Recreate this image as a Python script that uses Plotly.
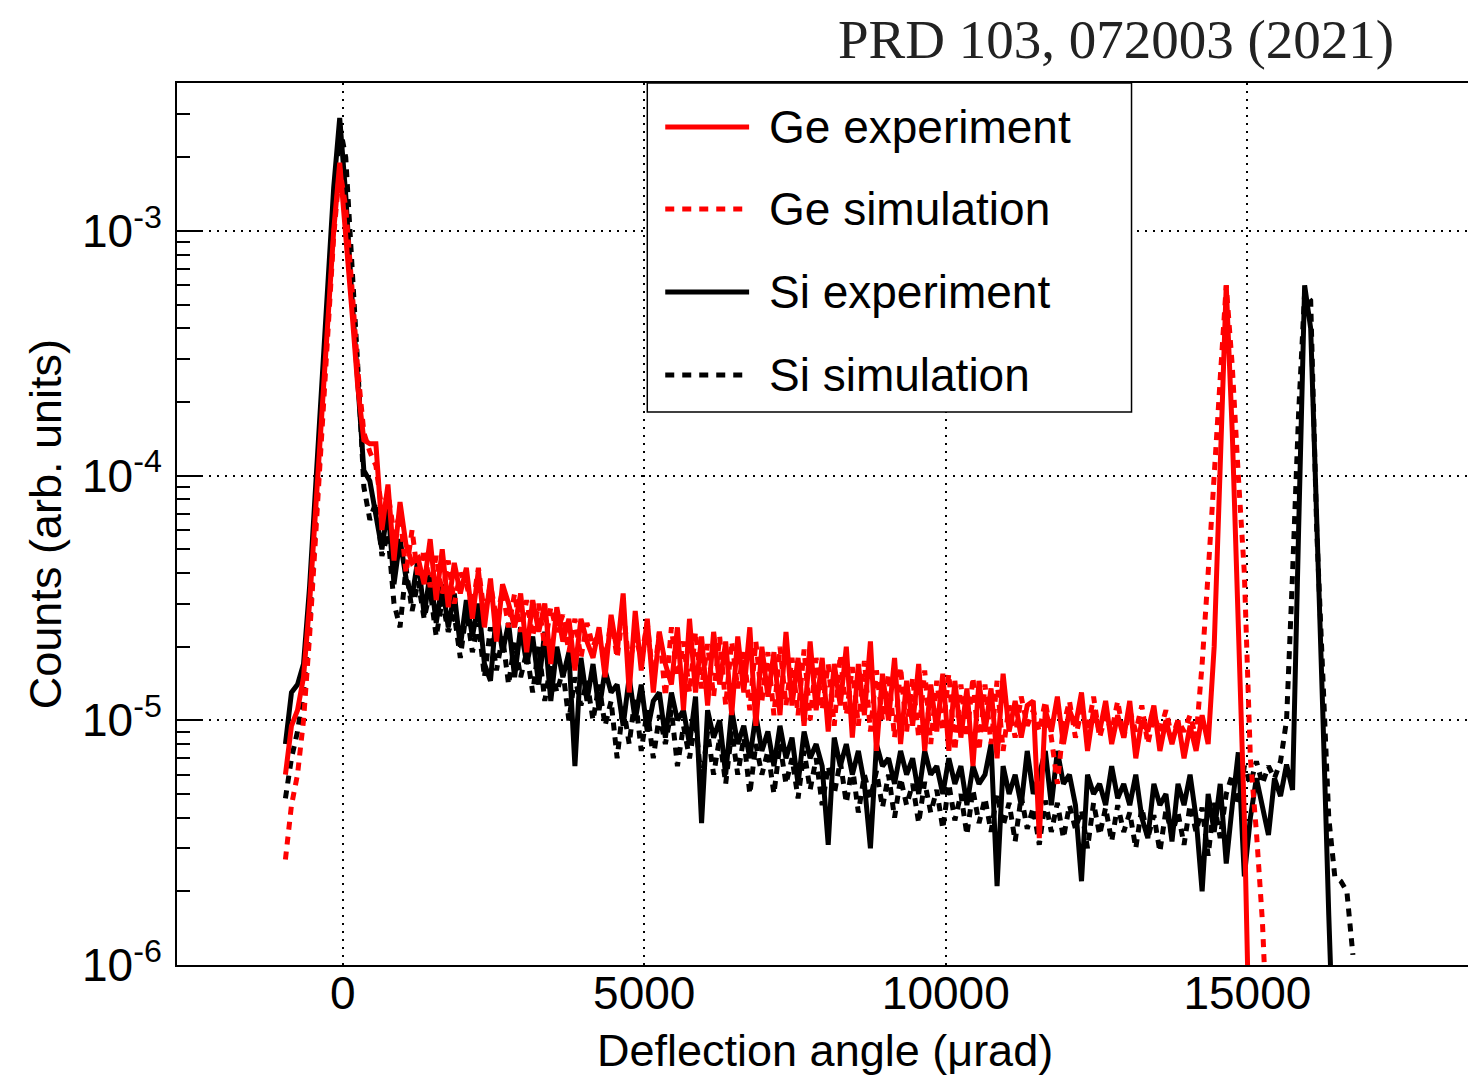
import numpy as np
import plotly.graph_objects as go

# Histogram contents, in units of 1e-6 (arb. units); bin centres start at -950 µrad, width 100 µrad
UNIT = 1e-6
first_bin_center = -950
bin_width = 100

ge_experiment = [
    6, 9.5, 11, 15, 30, 70, 170, 420, 1000, 1900,
    1000, 480, 230, 140, 135, 135, 60, 92, 45, 78,
    52, 44, 46, 36, 55, 31, 50, 29, 44, 33,
    42, 26, 41, 24, 38, 21, 36, 30, 24, 33,
    19, 31, 23, 30, 17, 29, 21, 26, 16, 26,
    21, 18, 24, 15, 27, 19, 33, 13, 28, 16,
    26, 13, 23, 17, 14, 24, 11, 26, 13, 22,
    11.5, 23, 14, 21, 10.5, 22, 13, 24, 9.5, 20,
    12.5, 19, 10.5, 23, 11.5, 18, 9.5, 21, 11, 18,
    9, 17, 11.5, 20, 8.5, 17, 10.5, 21, 7.5, 15.5,
    10, 18, 8, 14.5, 9.5, 17, 7.5, 14, 9, 15.5,
    7.5, 14.5, 8.5, 13.5, 6.5, 14.5, 9, 13.5, 7, 15.5,
    9, 12, 8.5, 11.5, 12, 3.3, 11, 9, 12.5, 8,
    11, 9.5, 13, 7.5, 11, 9, 12, 8, 10.5, 8.5,
    12, 7, 10, 9, 11.5, 7.5, 10, 8, 10, 7,
    9.5, 7.5, 10.5, 8, 20, 110, 600, 150, 22, 4,
    0.3,
]

ge_simulation = [
    2.7, 4.5, 6, 10, 22, 55, 140, 380, 950, 1800,
    1250, 600, 270, 150, 125, 110, 72, 85, 58, 70,
    40, 60, 38, 50, 35, 47, 33, 45, 30, 40,
    36, 29, 42, 27, 36, 26, 34, 24, 33, 23,
    31, 22, 30, 20, 29, 23, 27, 19, 26, 18,
    25, 20, 23, 17, 26, 18, 28, 17, 22, 18,
    25, 14.5, 23, 12.5, 24, 15, 21, 13, 23, 13.5,
    20.5, 12.5, 22, 11.5, 21, 13.5, 19, 11, 21, 12,
    19, 10.5, 20, 11.5, 18, 10.5, 19.5, 10, 18, 11,
    17, 9.5, 18.5, 10.5, 16.5, 9.5, 17.5, 9, 16, 10,
    15.5, 8.5, 16.5, 9, 15, 8.5, 16, 8, 14.5, 9,
    15.5, 7.5, 14, 8.5, 15, 7.5, 14, 8, 14.5, 7.5,
    11.5, 8.5, 12.5, 9.5, 11, 9, 12, 8.5, 5.5, 9.5,
    12, 8.5, 11, 9, 12.5, 8.5, 10.5, 9, 12, 8.5,
    11, 9, 11.5, 8, 10.5, 9, 11, 8.5, 10, 9,
    10.5, 8.5, 17, 40, 110, 250, 600, 280, 100, 40,
    7, 3.5, 1.5, 0.4,
]

si_experiment = [
    8, 13, 14, 17, 35, 90, 250, 650, 1500, 2900,
    1400, 550, 230, 105, 95, 70, 50, 75, 36, 55,
    38, 32, 46, 27, 40, 25, 36, 24, 33, 20,
    31, 22, 30, 17, 14.5, 28, 19, 25, 15, 24,
    17, 22, 14, 23, 12, 20, 15, 19, 6.5, 18,
    12, 17, 11, 16, 13, 14, 9.5, 15, 10, 14,
    9, 12, 13, 8.5, 13, 10, 11, 8, 12.5, 3.8,
    11, 8.5, 10, 6, 11, 8, 9.5, 7, 10.5, 7.5,
    9, 6.5, 9.5, 7, 8.5, 5.5, 9, 7, 8, 6.5,
    3.1, 8.5, 6.5, 8, 6, 7.5, 5.5, 3, 8, 6.5,
    7, 5.5, 7.5, 6, 7, 5, 7.5, 6, 6.5, 5,
    7, 5.5, 6.5, 4.5, 6.5, 5.5, 6, 8, 2.1, 6.5,
    5, 6, 4.5, 7.5, 5, 6, 7.5, 4.5, 7.5, 5.5,
    6, 4.5, 2.2, 6, 5, 5.5, 4.5, 6.5, 4.8, 5.5,
    4.5, 6, 4, 3.3, 5.5, 4.5, 5, 3.2, 5.5, 4.5,
    6, 4, 2, 5, 3.5, 5.5, 2.6, 4.5, 7.4, 2.3,
    4, 5.8, 4.5, 3.4, 5.8, 4.9, 6.6, 5.2, 60, 600,
    400, 75, 11, 1.6, 0.3,
]

si_simulation = [
    4.8, 7, 9, 13, 25, 60, 170, 480, 1200, 2700,
    2000, 800, 280, 90, 66, 78, 47, 58, 30, 24,
    42, 28, 37, 26, 34, 22, 31, 23, 27, 18,
    28, 19, 25, 15, 24, 16, 22, 14, 21, 15,
    19, 13, 20, 12, 17, 13, 16, 10, 15, 11.5,
    14.5, 10, 14, 9.5, 12, 7, 11.5, 8, 12.5, 7.5,
    11, 7, 10.5, 8, 11, 6.5, 9.5, 7, 10, 5.5,
    9, 6, 8.5, 5.5, 9, 6, 8.5, 5, 8, 6,
    7.5, 5, 8, 5.5, 7, 4.8, 7.5, 5.2, 7, 4.5,
    6.5, 5, 6.8, 4.6, 6.5, 4.2, 6, 4.8, 6.2, 4.4,
    6, 4, 5.8, 4.5, 5.5, 3.8, 5.6, 4.2, 5.2, 3.6,
    5.5, 3.9, 5, 3.4, 5.2, 3.8, 4.8, 3.5, 5, 3.7,
    4.6, 3.2, 4.9, 3.6, 4.4, 3.1, 4.7, 3.5, 4.6, 3.3,
    4.5, 3.6, 4.3, 3, 4.6, 3.4, 4.4, 3.2, 4.5, 3.5,
    4.2, 3, 4.4, 3.3, 4.1, 2.9, 4.3, 3.4, 4.2, 3.1,
    4.5, 3.5, 4.4, 2.8, 4.6, 3.3, 5, 6, 4.5, 6.5,
    5.5, 6.8, 5.5, 6.5, 5.8, 6.8, 10, 40, 180, 560,
    520, 60, 15, 4, 2.3, 2.2, 2, 1.1,
]

series_names = ["Ge experiment", "Ge simulation", "Si experiment", "Si simulation"]
series_colors = ["#ff0000", "#ff0000", "#000000", "#000000"]
series_dash = ["solid", "8px,7px", "solid", "8px,7px"]

x_ticks = [0, 5000, 10000, 15000]
x_tick_labels = ["0", "5000", "10000", "15000"]
y_ticks = [1e-6, 1e-5, 1e-4, 1e-3]
y_tick_labels = ["10<sup>-6</sup>", "10<sup>-5</sup>", "10<sup>-4</sup>", "10<sup>-3</sup>"]

FONT = "Liberation Sans"
OFF = 8  # page body margin in the browser
# target plot area on screen: x 177..1474, y 83..965
W, H = 1468, 1067
L, T = 177 - OFF, 83 - OFF
R = W - (1474 - OFF)
B = H - (965 - OFF)
pw, ph = W - L - R, H - T - B


def px2paper(px, py):
    fx, fy = px - OFF, py - OFF
    return (fx - L) / pw, (H - B - fy) / ph


data = {
    "Ge experiment": ge_experiment,
    "Ge simulation": ge_simulation,
    "Si experiment": si_experiment,
    "Si simulation": si_simulation,
}

fig = go.Figure()
draw_order = ["Si experiment", "Si simulation", "Ge experiment", "Ge simulation"]
for name in draw_order:
    i = series_names.index(name)
    vals = np.array(data[name], dtype=float) * UNIT
    x = first_bin_center + bin_width * np.arange(len(vals))
    fig.add_trace(go.Scatter(
        x=x, y=vals, mode="lines", name=name, showlegend=False,
        line=dict(color=series_colors[i], width=5, dash=series_dash[i]),
    ))

minor_y = [m * 10.0 ** e for e in range(-6, -2) for m in range(2, 10)]

axis_common = dict(
    showline=True, mirror=True, linecolor="black", linewidth=2,
    tickcolor="black", tickwidth=1.5,
    tickfont=dict(family=FONT, size=46, color="black"),
    showgrid=True, gridcolor="black", gridwidth=1.5, griddash="2px,6px",
    zeroline=False,
)

fig.update_xaxes(
    range=[-2748, 18725], tickvals=x_ticks, ticktext=x_tick_labels,
    ticks="", ticklabelstandoff=-13,
    **axis_common,
)
fig.update_yaxes(
    type="log", range=[-6, -2.395], tickvals=y_ticks, ticktext=y_tick_labels,
    ticks="inside", ticklen=26, ticklabelstandoff=4,
    minor=dict(ticks="inside", ticklen=13, tickcolor="black", tickwidth=1.5, tickvals=minor_y, showgrid=False),
    **axis_common,
)

shapes = []
annotations = []

# legend box
x0, y1 = px2paper(648, 83)
x1, y0 = px2paper(1133, 412)
shapes.append(dict(type="rect", xref="paper", yref="paper", x0=x0, x1=x1, y0=y0, y1=y1,
                   line=dict(color="black", width=1.5), fillcolor="white", layer="above"))
rows_py = [127, 209, 292, 375]
for name, py in zip(series_names, rows_py):
    i = series_names.index(name)
    sx0, sy = px2paper(666, py)
    sx1, _ = px2paper(750, py)
    shapes.append(dict(type="line", xref="paper", yref="paper", x0=sx0, x1=sx1, y0=sy, y1=sy,
                       line=dict(color=series_colors[i], width=5,
                                 dash="9px,8px" if series_dash[i] != "solid" else "solid"),
                       layer="above"))
    tx, ty = px2paper(768, py)
    annotations.append(dict(xref="paper", yref="paper", x=tx, y=ty, text=name, showarrow=False,
                            xanchor="left", yanchor="middle",
                            font=dict(family=FONT, size=46, color="black")))

# axis titles
_, ax_y = px2paper(825, 1050)
annotations.append(dict(xref="paper", yref="paper", x=0.5, y=ax_y, text="Deflection angle (μrad)",
                        showarrow=False, xanchor="center", yanchor="middle",
                        font=dict(family=FONT, size=45, color="black")))
ay_x, _ = px2paper(45, 524)
annotations.append(dict(xref="paper", yref="paper", x=ay_x, y=0.5, text="Counts (arb. units)",
                        showarrow=False, xanchor="center", yanchor="middle", textangle=-90,
                        font=dict(family=FONT, size=45, color="black")))
# reference label
rx, ry = px2paper(1398, 39)
annotations.append(dict(xref="paper", yref="paper", x=rx, y=ry, text="PRD 103, 072003 (2021)",
                        showarrow=False, xanchor="right", yanchor="middle",
                        font=dict(family="Liberation Serif", size=55, color="#222222")))

fig.update_layout(
    width=W, height=H, autosize=False,
    margin=dict(l=L, r=R, t=T, b=B, pad=0),
    paper_bgcolor="white", plot_bgcolor="white",
    shapes=shapes, annotations=annotations,
    showlegend=False,
)

fig.write_html("out.html")
